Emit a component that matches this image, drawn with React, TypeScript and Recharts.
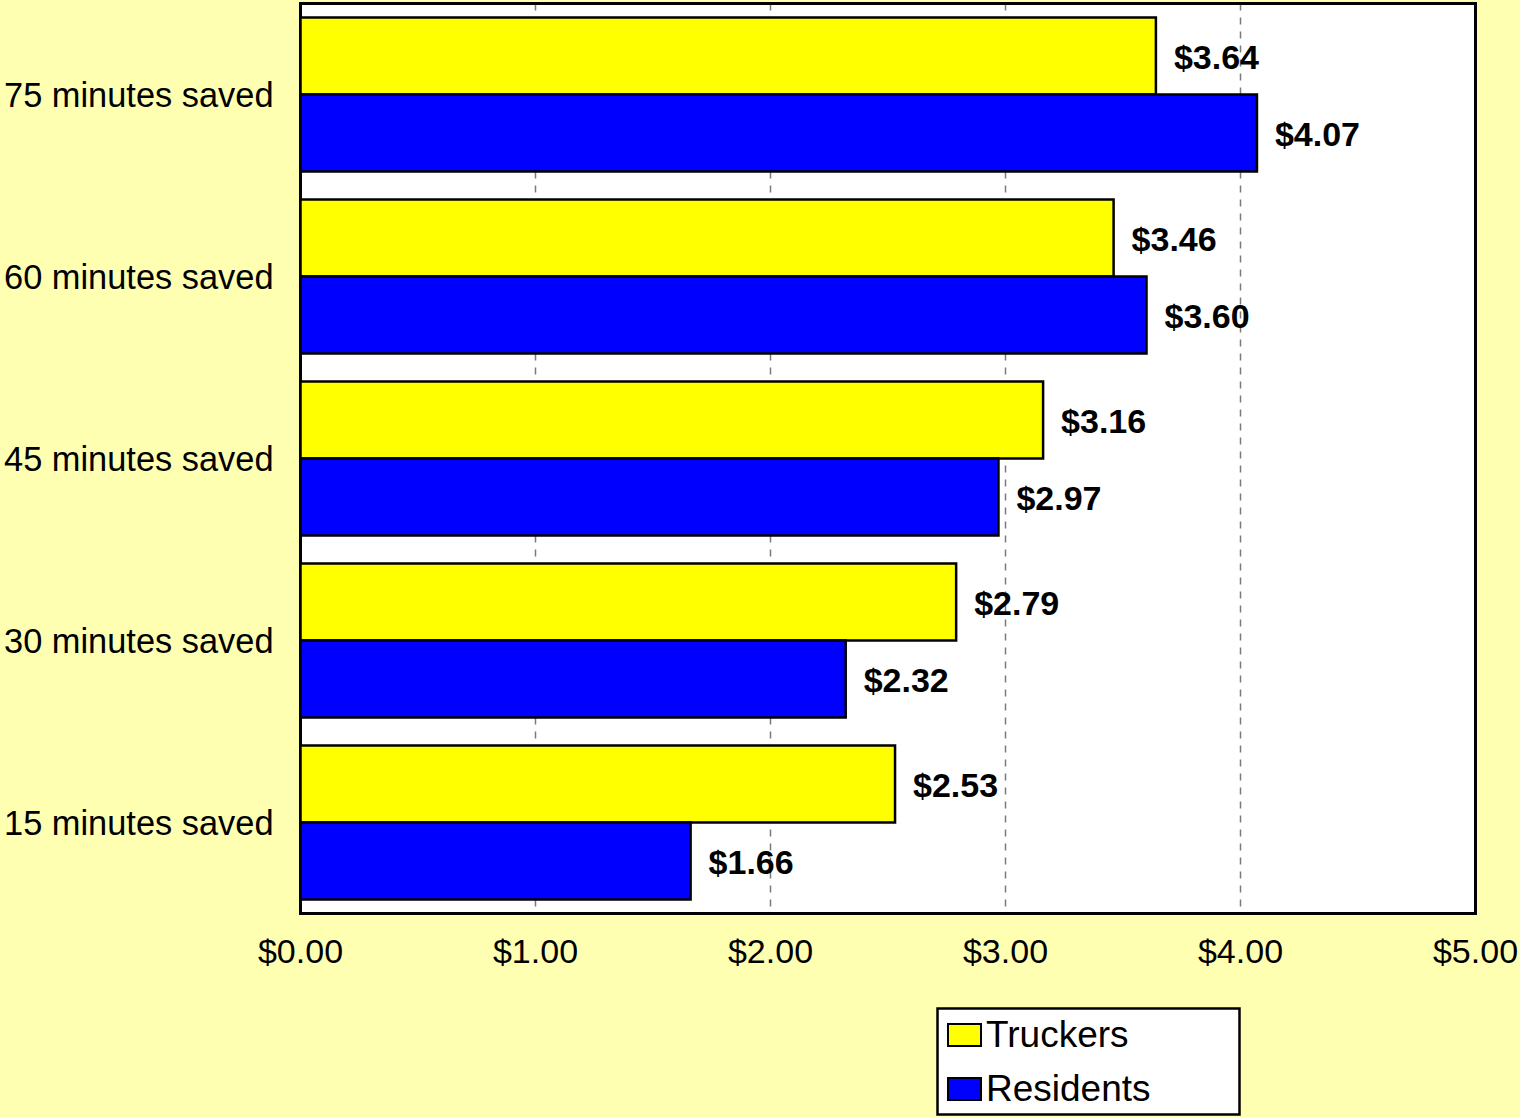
import React from "react";
import {
  BarChart,
  Bar,
  XAxis,
  YAxis,
  CartesianGrid,
  LabelList,
  Legend,
  ReferenceArea,
} from "recharts";

const categories = [
  "75 minutes saved",
  "60 minutes saved",
  "45 minutes saved",
  "30 minutes saved",
  "15 minutes saved",
];
const truckers = [3.64, 3.46, 3.16, 2.79, 2.53];
const residents = [4.07, 3.6, 2.97, 2.32, 1.66];
const xTicks = [0, 1, 2, 3, 4, 5];
const seriesNames = ["Truckers", "Residents"];

const data = categories.map((name, i) => ({
  name,
  Truckers: truckers[i],
  Residents: residents[i],
}));

const FONT = "'Liberation Sans', Arial, sans-serif";
const money = (v: number) => "$" + Number(v).toFixed(2);

const YTick = (props: any) => {
  const { y, payload } = props;
  return (
    <text x={4} y={y + 12} fontFamily={FONT} fontSize={34.4} fill="#000" textAnchor="start">
      {payload.value}
    </text>
  );
};

const XTick = (props: any) => {
  const { x, y, payload } = props;
  return (
    <text x={x} y={y + 49.5} fontFamily={FONT} fontSize={34} fill="#000" textAnchor="middle">
      {money(payload.value)}
    </text>
  );
};

const ValueLabel = (props: any) => {
  const { x, y, width, height, value } = props;
  return (
    <text
      x={x + width + 18}
      y={y + height / 2 + 13}
      fontFamily={FONT}
      fontSize={34}
      fontWeight="bold"
      fill="#000"
      textAnchor="start"
    >
      {money(value)}
    </text>
  );
};

const LegendContent = (props: any) => {
  const payload = [...(props.payload || [])].sort(
    (a: any, b: any) => seriesNames.indexOf(a.value) - seriesNames.indexOf(b.value)
  );
  return (
    <svg width={310} height={112} style={{ display: "block" }}>
      <rect x={1.5} y={1.5} width={302} height={106} fill="#fff" stroke="#000" strokeWidth={2.5} />
      {payload.map((p: any, i: number) => (
        <g key={p.value}>
          <rect
            x={12}
            y={17 + i * 54}
            width={33}
            height={22}
            fill={p.color}
            stroke="#000"
            strokeWidth={2}
          />
          <text x={50} y={40 + i * 54} fontFamily={FONT} fontSize={37} fill="#000">
            {p.value}
          </text>
        </g>
      ))}
    </svg>
  );
};

export default function App() {
  return (
    <div
      style={{
        position: "absolute",
        left: 0,
        top: 0,
        width: 1520,
        height: 1117,
        background: "#FFFFB2",
      }}
    >
      <BarChart
        width={1520}
        height={1117}
        data={data}
        layout="vertical"
        margin={{ top: 3.5, right: 44.5, left: 0.5, bottom: 143.5 }}
        barCategoryGap={14}
        barGap={0}
      >
        <CartesianGrid
          horizontal={false}
          vertical={true}
          fill="#ffffff"
          stroke="#7a7a7a"
          strokeWidth={1.5}
          strokeDasharray="7 7"
        />
        <XAxis
          type="number"
          domain={[0, 5]}
          ticks={xTicks}
          interval={0}
          axisLine={false}
          tickLine={false}
          tickSize={0}
          tickMargin={0}
          height={60}
          tick={<XTick />}
        />
        <YAxis
          type="category"
          dataKey="name"
          width={300}
          axisLine={false}
          tickLine={false}
          tickSize={0}
          tickMargin={0}
          tick={<YTick />}
        />
        <Legend
          layout="vertical"
          align="center"
          verticalAlign="middle"
          content={<LegendContent />}
          wrapperStyle={{ position: "absolute", left: 936, top: 1007, width: 310, height: 112 }}
        />
        <Bar dataKey="Truckers" fill="#FFFF00" stroke="#000" strokeWidth={2.5} isAnimationActive={false}>
          <LabelList dataKey="Truckers" content={<ValueLabel />} />
        </Bar>
        <Bar dataKey="Residents" fill="#0000FF" stroke="#000" strokeWidth={2.5} isAnimationActive={false}>
          <LabelList dataKey="Residents" content={<ValueLabel />} />
        </Bar>
        <ReferenceArea x1={0} x2={5} fill="none" stroke="#000" strokeWidth={3} fillOpacity={0} />
      </BarChart>
    </div>
  );
}
